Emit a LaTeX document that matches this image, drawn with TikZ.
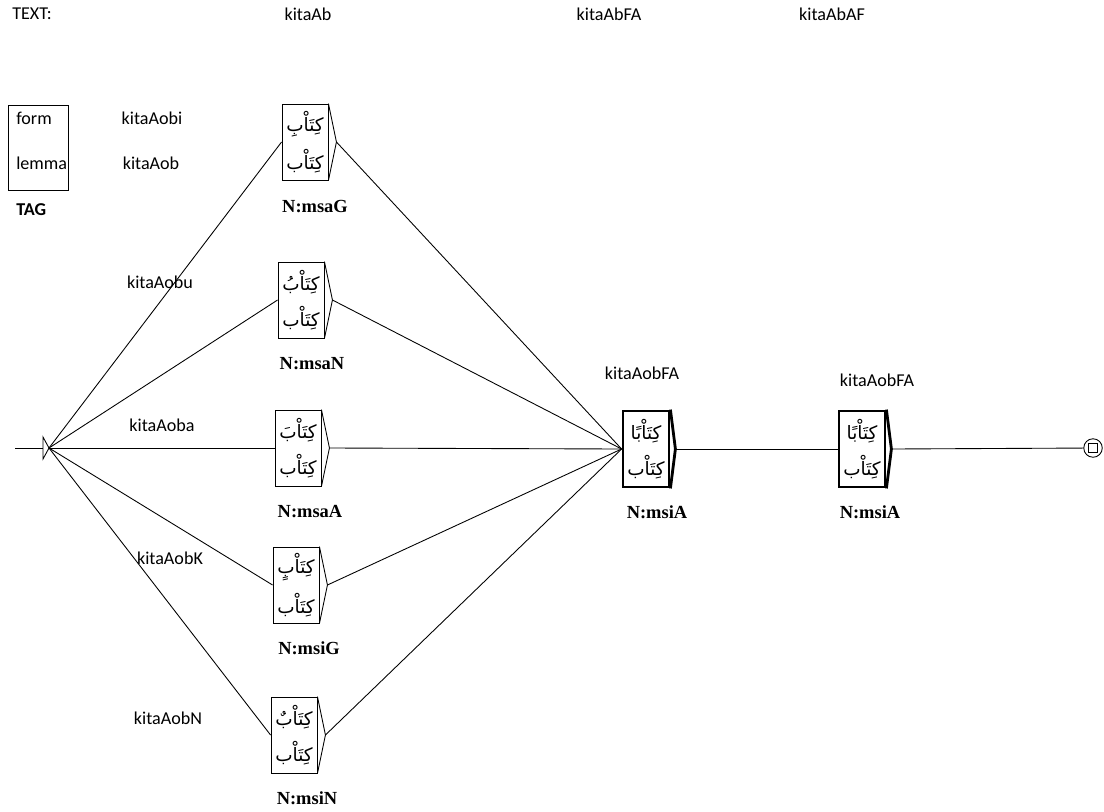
\documentclass[tikz,border=0pt]{standalone}
\usepackage{fontspec}
\setmainfont{Carlito}
\newfontfamily\arabicfont[Script=Arabic]{DejaVu Sans}
\newfontfamily\tagfont{Liberation Serif}
\TeXXeTstate=1
\usetikzlibrary{positioning}
\newcommand\ar[1]{{\arabicfont\fontsize{10.5}{13}\selectfont\beginR #1\endR}}
\tikzset{
  every node/.style={font=\fontsize{10.3}{12}\selectfont},
  box/.style={draw, minimum width=0.92cm, minimum height=1.52cm,
    inner sep=0pt, align=center},
  bigbox/.style={box, line width=1.6pt},
  tag/.style={font=\tagfont\bfseries\fontsize{10.5}{12}\selectfont},
}

\begin{document}
\begin{tikzpicture}[x=0.02cm, y=-0.02cm, line width=0.5pt]
\useasboundingbox (0,0) rectangle (1104,811);

% text line
\node[anchor=west] (text) at (6,14) {TEXT:};
\node (tok1) at (308,14) {kitaAb};
\node (tok2) at (609,14) {kitaAbFA};
\node (tok3) at (832,14) {kitaAbAF};

% legend
\node[draw, minimum width=1.2cm, minimum height=1.7cm, anchor=north west] (leg) at (8,105) {};
\node[anchor=west] (form) at (10,118) {form};
\node[anchor=west] (lemma) at (10,163) {lemma};
\node[anchor=west, font=\bfseries\fontsize{10.3}{12}\selectfont] (tagname) at (10,210) {TAG};

% start
\coordinate (in) at (15,448);
\coordinate (st) at (43,448);
\coordinate (s) at (49,448);
\draw (in) -- (st);
\draw (43,437) -- (s) -- (43,459) -- cycle;

% boxes
\node[box] (g) at (305,142) {\ar{كِتَاْبِ}\\[2mm]\ar{كِتَاْب}};
\node[box] (n) at (301,300) {\ar{كِتَاْبُ}\\[2mm]\ar{كِتَاْب}};
\node[box] (a) at (298,448) {\ar{كِتَاْبَ}\\[2mm]\ar{كِتَاْب}};
\node[box] (k) at (296,585) {\ar{كِتَاْبٍ}\\[2mm]\ar{كِتَاْب}};
\node[box] (u) at (294,735) {\ar{كِتَاْبٌ}\\[2mm]\ar{كِتَاْب}};
\node[bigbox] (f1) at (646,449) {\ar{كِتَاْبًا}\\[2mm]\ar{كِتَاْب}};
\node[bigbox] (f2) at (862,449) {\ar{كِتَاْبًا}\\[2mm]\ar{كِتَاْب}};

\foreach \b in {g,n,a,k,u}
  \draw (\b.north east) -- ([xshift=0.16cm]\b.east) coordinate (\b-t) -- (\b.south east);
\foreach \b in {f1,f2}
  \draw[line width=1.6pt] (\b.north east) -- ([xshift=0.1cm]\b.east) coordinate (\b-t) -- (\b.south east);

% tags
\node[tag] (gtag) at (315,207) {N:msaG};
\node[tag] (ntag) at (312,364) {N:msaN};
\node[tag] (atag) at (310,512) {N:msaA};
\node[tag] (ktag) at (309,648) {N:msiG};
\node[tag] (utag) at (307,798) {N:msiN};
\node[tag] (f1tag) at (657,512) {N:msiA};
\node[tag] (f2tag) at (870,512) {N:msiA};

% forms
\node (gform) at (152,118) {kitaAobi};
\node (glemma) at (151,163) {kitaAob};
\node (nform) at (160,282) {kitaAobu};
\node (aform) at (162,425) {kitaAoba};
\node (kform) at (170,558) {kitaAobK};
\node (uform) at (168,718) {kitaAobN};
\node (f1form) at (642,373) {kitaAobFA};
\node (f2form) at (877,380) {kitaAobFA};

% final
\node[draw, circle, minimum size=0.37cm, inner sep=0pt] (fin) at (1093,448) {};
\node[draw, minimum size=0.19cm, inner sep=0pt] (finsq) at (fin) {};

% transitions
\foreach \b in {g,n,a,k,u} {
  \draw (s) -- (\b.west);
  \draw (\b-t) -- (f1.west);
}
\draw (f1-t) -- (f2.west);
\draw (f2-t) -- (fin);
\end{tikzpicture}
\end{document}
